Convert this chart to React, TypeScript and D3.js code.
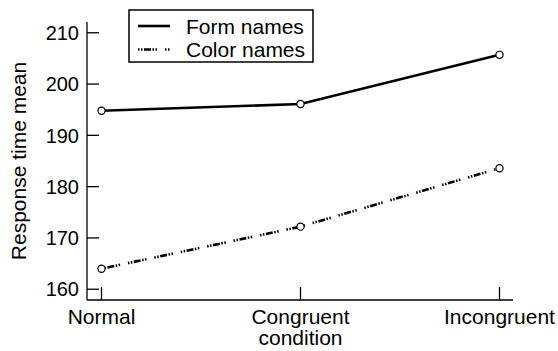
import React from "react";
import * as d3 from "d3";

const categories = ["Normal", "Congruent", "Incongruent"];
const categoryLabels = [["Normal"], ["Congruent", "condition"], ["Incongruent"]];
const formNames = [194.8, 196.1, 205.7];
const colorNames = [164.0, 172.2, 183.6];
const yTicks = [160, 170, 180, 190, 200, 210];
const seriesNames = ["Form names", "Color names"];

const W = 558;
const H = 351;
const FONT = "'Liberation Sans', Arial, Helvetica, sans-serif";
const DASH = "1.5,1.5,1.5,1.5,7,1.5,1.5,1.5,1.5,8";

export default function App() {
  const x = d3.scalePoint<string>().domain(categories).range([101.5, 499.5]);
  const y = d3.scaleLinear().domain([157.9, 212.1]).range([300, 22]);
  const axisLeft = 87;
  const axisRight = 513;
  const axisBottom = y(157.9);
  const axisTop = y(212.1);

  const line = d3
    .line<number>()
    .x((_, i) => x(categories[i]) as number)
    .y((d) => y(d));

  const series = [
    { name: seriesNames[0], values: formNames, dash: undefined as string | undefined },
    { name: seriesNames[1], values: colorNames, dash: DASH },
  ];

  return (
    <svg
      width={W}
      height={H}
      style={{ position: "absolute", left: 0, top: 0, background: "#fff" }}
      fontFamily={FONT}
    >
      <rect x={0} y={0} width={W} height={H} fill="#fff" />
      {/* axes */}
      <line x1={axisLeft} x2={axisLeft} y1={axisTop} y2={axisBottom} stroke="#000" strokeWidth={1.3} />
      <line x1={axisLeft} x2={axisRight} y1={axisBottom} y2={axisBottom} stroke="#000" strokeWidth={1.3} />
      {yTicks.map((t) => (
        <g key={t}>
          <line x1={axisLeft} x2={axisLeft + 12} y1={y(t)} y2={y(t)} stroke="#000" strokeWidth={1.3} />
          <text x={axisLeft - 8} y={y(t)} dy="0.36em" textAnchor="end" fontSize={20}>
            {t}
          </text>
        </g>
      ))}
      {categories.map((c, i) => (
        <g key={c}>
          <line x1={x(c)} x2={x(c)} y1={axisBottom} y2={axisBottom - 13} stroke="#000" strokeWidth={1.3} />
          {categoryLabels[i].map((l, j) => (
            <text key={l} x={x(c)} y={324 + j * 21} textAnchor="middle" fontSize={21}>
              {l}
            </text>
          ))}
        </g>
      ))}
      <text
        transform={`translate(18,${161}) rotate(-90)`}
        dy="0.36em"
        textAnchor="middle"
        fontSize={21}
      >
        Response time mean
      </text>
      {/* series */}
      {series.map((s) => (
        <g key={s.name}>
          <path d={line(s.values) as string} fill="none" stroke="#000" strokeWidth={2.6} strokeDasharray={s.dash} />
          {s.values.map((v, i) => (
            <circle key={i} cx={x(categories[i])} cy={y(v)} r={3.6} fill="#fff" stroke="#000" strokeWidth={1.2} />
          ))}
        </g>
      ))}
      {/* legend */}
      <rect x={129} y={10} width={184} height={52} fill="#fff" stroke="#000" strokeWidth={1.5} />
      {series.map((s, i) => (
        <g key={s.name}>
          <line x1={138} x2={170} y1={26 + i * 23.5} y2={26 + i * 23.5} stroke="#000" strokeWidth={2.6} strokeDasharray={s.dash} />
          <text x={186} y={26 + i * 23.5} dy="0.36em" fontSize={21}>
            {s.name}
          </text>
        </g>
      ))}
    </svg>
  );
}
